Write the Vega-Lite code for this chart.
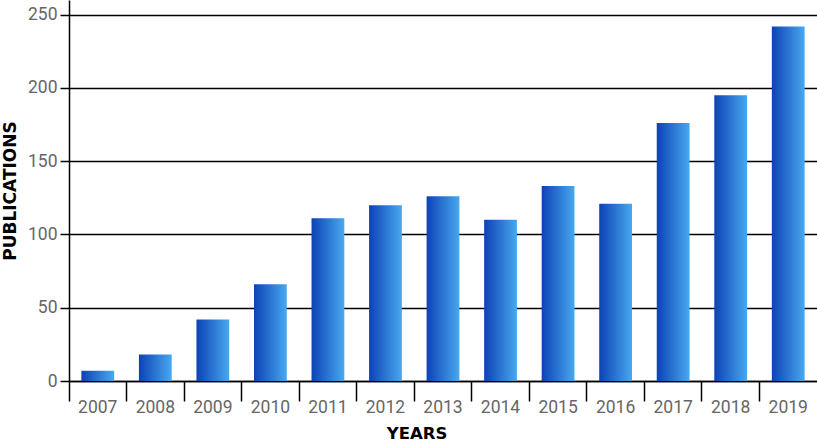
{
  "$schema": "https://vega.github.io/schema/vega-lite/v6.json",
  "width": 748,
  "height": 381,
  "autosize": {"type": "none"},
  "padding": {"left": 69, "top": 0, "right": 0, "bottom": 62},
  "background": "white",
  "config": {"view": {"stroke": null}},
  "data": {
    "values": [
      {"year": "2007", "publications": 7},
      {"year": "2008", "publications": 18},
      {"year": "2009", "publications": 42},
      {"year": "2010", "publications": 66},
      {"year": "2011", "publications": 111},
      {"year": "2012", "publications": 120},
      {"year": "2013", "publications": 126},
      {"year": "2014", "publications": 110},
      {"year": "2015", "publications": 133},
      {"year": "2016", "publications": 121},
      {"year": "2017", "publications": 176},
      {"year": "2018", "publications": 195},
      {"year": "2019", "publications": 242}
    ]
  },
  "mark": {
    "type": "bar",
    "color": {
      "gradient": "linear",
      "x1": 0, "x2": 1, "y1": 0, "y2": 0,
      "stops": [
        {"offset": 0, "color": "#0d42b6"},
        {"offset": 1, "color": "#48a8ee"}
      ]
    }
  },
  "encoding": {
    "x": {
      "field": "year",
      "type": "ordinal",
      "scale": {"paddingInner": 0.43, "paddingOuter": 0.215},
      "axis": {
        "title": "YEARS",
        "titleFont": "DejaVu Sans",
        "titleFontWeight": "bold",
        "titleFontSize": 16.5,
        "titleColor": "#000000",
        "titleBaseline": "alphabetic",
        "titleX": 347.5,
        "titleY": 57.5,
        "labelAngle": 0,
        "labelFont": "Roboto",
        "labelFontSize": 17.5,
        "labelColor": "#666666",
        "labelPadding": -3,
        "bandPosition": -0.376,
        "tickSize": 20,
        "tickColor": "#000000",
        "tickWidth": 1.5,
        "domainColor": "#000000",
        "domainWidth": 1.5,
        "grid": false
      }
    },
    "y": {
      "field": "publications",
      "type": "quantitative",
      "scale": {"domain": [0, 260], "nice": false},
      "axis": {
        "title": "PUBLICATIONS",
        "titleFont": "DejaVu Sans",
        "titleFontWeight": "bold",
        "titleFontSize": 17,
        "titleColor": "#000000",
        "titleBaseline": "alphabetic",
        "titleX": -54,
        "titleY": 190.5,
        "values": [0, 50, 100, 150, 200, 250],
        "labelFont": "Roboto",
        "labelFontSize": 17.5,
        "labelColor": "#666666",
        "labelPadding": 3,
        "tickSize": 9,
        "tickColor": "#000000",
        "tickWidth": 1.5,
        "domainColor": "#000000",
        "domainWidth": 1.5,
        "grid": true,
        "gridColor": "#000000",
        "gridWidth": 1.5
      }
    }
  }
}
